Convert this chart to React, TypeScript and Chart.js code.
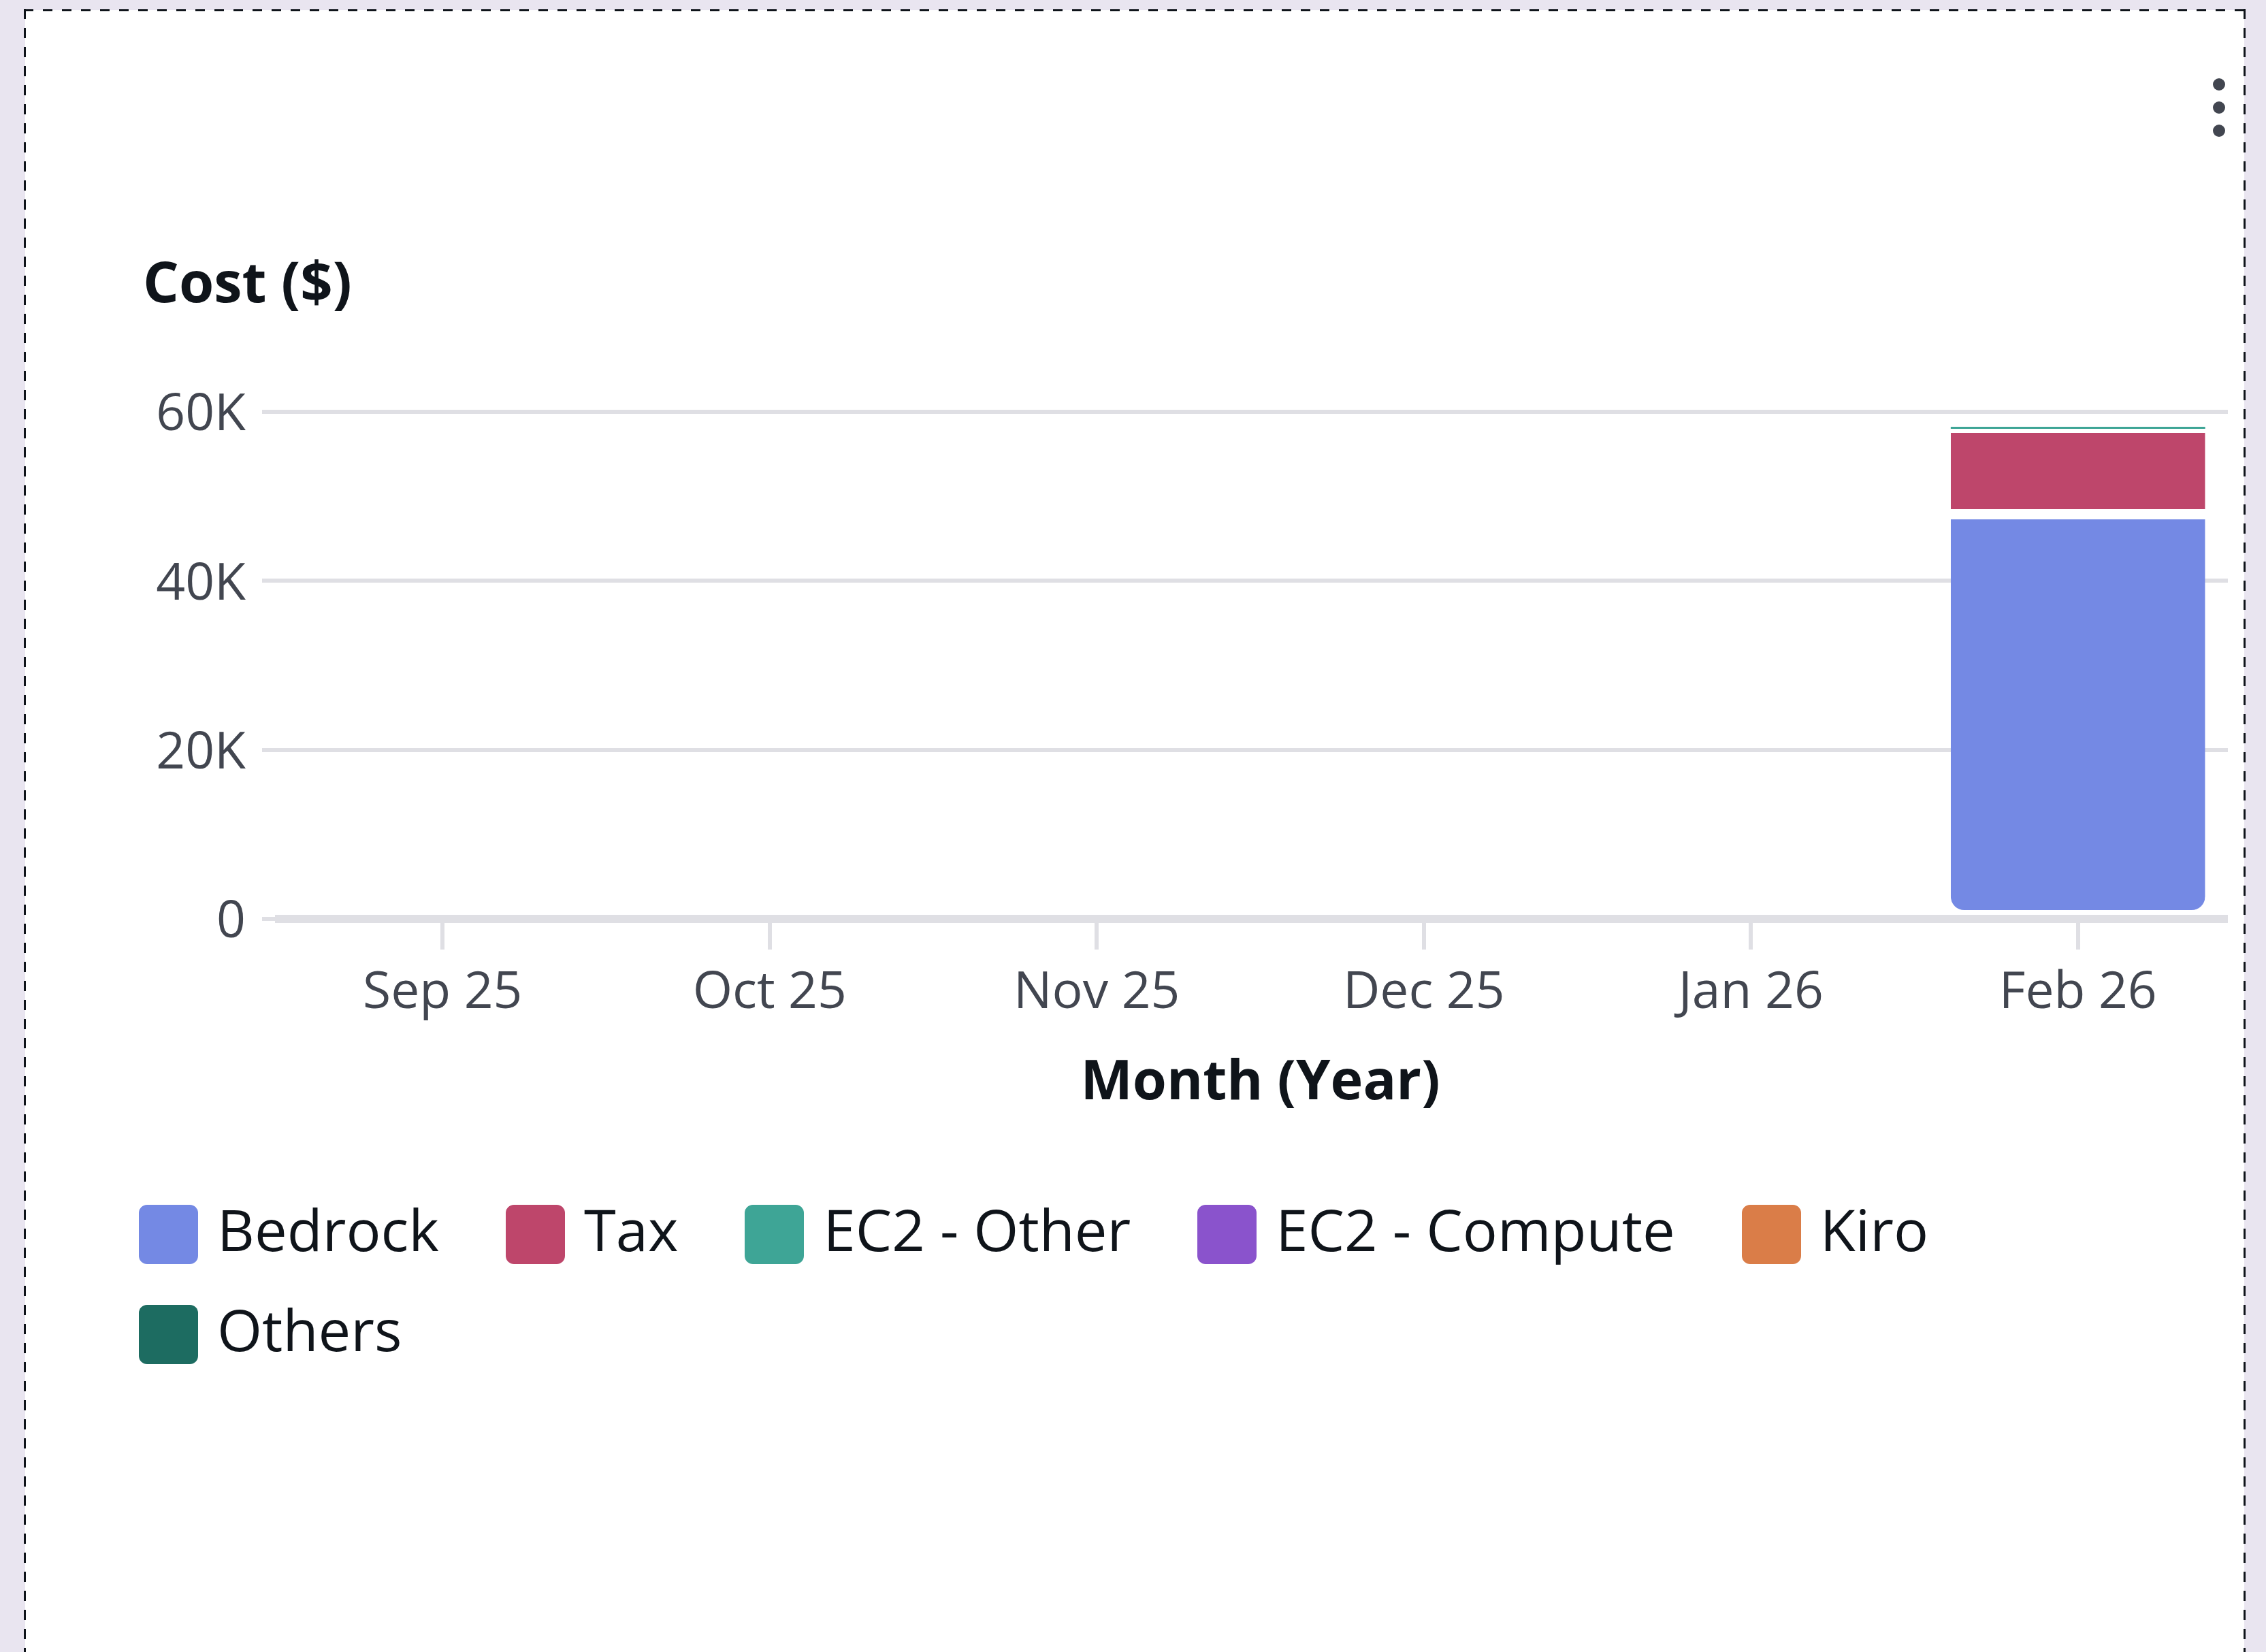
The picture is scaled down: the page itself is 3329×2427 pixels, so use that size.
import React, { useEffect, useRef } from 'react';
import { Chart, registerables } from 'chart.js';

Chart.register(...registerables);

// ---- data ----
const months = ['Sep 25', 'Oct 25', 'Nov 25', 'Dec 25', 'Jan 26', 'Feb 26'];
const bedrock = [0, 0, 0, 0, 0, 48480];
const tax = [0, 0, 0, 0, 0, 9500];
const ec2Other = [0, 0, 0, 0, 0, 240];
const ec2Compute = [0, 0, 0, 0, 0, 0];
const kiro = [0, 0, 0, 0, 0, 0];
const others = [0, 0, 0, 0, 0, 0];
const yTickValues = [0, 20000, 40000, 60000];
const seriesNames = ['Bedrock', 'Tax', 'EC2 - Other', 'EC2 - Compute', 'Kiro', 'Others'];
const seriesColors = ['#7489e4', '#be466b', '#3ea596', '#8a53cc', '#da7d48', '#1d6c61'];

const FONT = "'Open Sans', sans-serif";
const TEXT = '#0f141a';
const TEXT2 = '#424650';
const GRID = '#dfdfe4';

function fmtK(v: number): string {
  return v === 0 ? '0' : `${v / 1000}K`;
}

export default function App() {
  const canvasRef = useRef<HTMLCanvasElement>(null);

  useEffect(() => {
    const canvas = canvasRef.current;
    if (!canvas) return;
    const seriesData = [bedrock, tax, ec2Other, ec2Compute, kiro, others];
    const datasets = seriesNames.map((name, i) => {
      const base: any = {
        label: name,
        data: seriesData[i],
        backgroundColor: seriesColors[i],
        borderColor: '#ffffff',
        borderSkipped: false,
        inflateAmount: 0,
        borderWidth: 0,
        borderRadius: 0,
      };
      if (i === 0) {
        base.borderWidth = { top: 15, bottom: 10, left: 0, right: 0 };
        base.borderRadius = { topLeft: 0, topRight: 0, bottomLeft: 30, bottomRight: 30 };
      } else if (i === 1) {
        base.borderWidth = { top: 6, bottom: 0, left: 0, right: 0 };
      }
      return base;
    });

    const chart = new Chart(canvas, {
      type: 'bar',
      data: { labels: months, datasets },
      options: {
        responsive: false,
        animation: false,
        devicePixelRatio: 1,
        layout: { padding: { left: 210, right: 36, top: 371, bottom: 59.4 } },
        categoryPercentage: 1,
        barPercentage: 0.778,
        plugins: {
          legend: { display: false },
          tooltip: { enabled: false },
          title: {
            display: true,
            text: 'Cost ($)',
            align: 'start',
            color: TEXT,
            font: { family: FONT, size: 83, weight: 'bold', lineHeight: 1.2 },
            padding: { top: 0, bottom: 134.4 },
          },
        },
        scales: {
          x: {
            stacked: true,
            grid: {
              display: true,
              drawOnChartArea: false,
              drawTicks: true,
              tickLength: 45,
              offset: false,
              color: GRID,
              lineWidth: 6,
            },
            border: { display: true, color: GRID, width: 12, z: 1 },
            ticks: {
              autoSkip: false,
              maxRotation: 0,
              padding: 20,
              color: TEXT2,
              font: { family: FONT, size: 75, lineHeight: 1.2 },
            },
            title: {
              display: true,
              text: 'Month (Year)',
              color: TEXT,
              font: { family: FONT, size: 81, weight: 'bold', lineHeight: 1.2 },
              padding: { top: 0, bottom: 0 },
            },
            afterFit: (s: any) => {
              s.height = 290.6;
            },
          },
          y: {
            stacked: true,
            min: 0,
            max: 60000,
            afterBuildTicks: (s: any) => {
              s.ticks = yTickValues.map((v) => ({ value: v }));
            },
            grid: {
              color: GRID,
              lineWidth: 6,
              drawTicks: true,
              tickLength: 25,
            },
            border: { display: false },
            ticks: {
              padding: 24,
              labelOffset: 6,
              color: TEXT2,
              font: { family: FONT, size: 75, lineHeight: 1.2 },
              callback: (v: any) => fmtK(Number(v)),
            },
            afterFit: (s: any) => {
              s.width = 200;
            },
          },
        },
      } as any,
    });
    return () => chart.destroy();
  }, []);

  const dots = [124, 158, 192];

  return (
    <div
      style={{
        position: 'fixed',
        left: 0,
        top: 0,
        width: 3329,
        height: 2427,
        background: '#e9e5f0',
        overflow: 'hidden',
        fontFamily: FONT,
      }}
    >
      <div style={{ position: 'absolute', left: 37, top: 15, width: 3260, height: 2500, background: '#ffffff' }} />
      <svg width={3329} height={2427} style={{ position: 'absolute', left: 0, top: 0 }}>
        <line x1={35} y1={14.7} x2={3299} y2={14.7} stroke={TEXT} strokeWidth={3} strokeDasharray="14 14" />
        <line x1={36.5} y1={13} x2={36.5} y2={2427} stroke={TEXT} strokeWidth={3} strokeDasharray="15 13" />
        <line x1={3297.5} y1={13} x2={3297.5} y2={2427} stroke={TEXT} strokeWidth={3} strokeDasharray="15 13" />
      </svg>
      <div style={{ position: 'absolute', left: 0, top: 0, width: 3273, height: 1700, overflow: 'hidden' }}>
        <canvas
          ref={canvasRef}
          width={3329}
          height={1700}
          style={{ position: 'absolute', left: 0, top: 0, width: 3329, height: 1700 }}
        />
      </div>
      {dots.map((y) => (
        <div
          key={y}
          style={{
            position: 'absolute',
            left: 3251,
            top: y - 9,
            width: 18,
            height: 18,
            borderRadius: 9,
            background: TEXT2,
          }}
        />
      ))}
      <div
        style={{
          position: 'absolute',
          left: 204,
          top: 1770,
          width: 3040,
          display: 'flex',
          flexWrap: 'wrap',
          columnGap: 98,
          rowGap: 60,
        }}
      >
        {seriesNames.map((n, i) => (
          <div key={n} style={{ display: 'flex', alignItems: 'center', height: 87 }}>
            <span
              style={{
                display: 'inline-block',
                width: 87,
                height: 87,
                borderRadius: 12,
                background: seriesColors[i],
                flex: 'none',
              }}
            />
            <span
              style={{
                marginLeft: 28,
                fontSize: 85,
                lineHeight: '87px',
                color: TEXT,
                position: 'relative',
                top: -8,
                whiteSpace: 'nowrap',
              }}
            >
              {n}
            </span>
          </div>
        ))}
      </div>
    </div>
  );
}
